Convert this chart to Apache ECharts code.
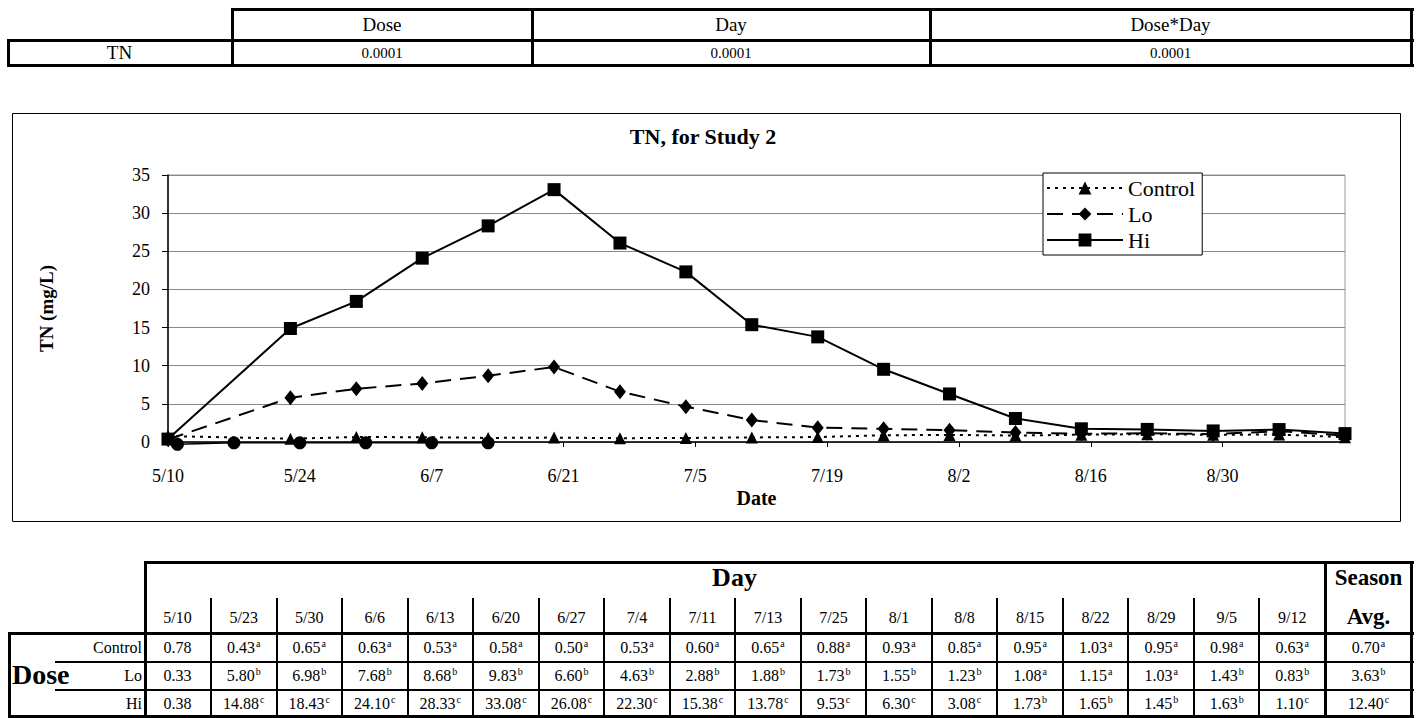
<!DOCTYPE html>
<html><head><meta charset="utf-8">
<script src="https://cdn.jsdelivr.net/npm/echarts@6/dist/echarts.min.js"></script>
<style>
html,body{margin:0;padding:0;background:#fff;}
body{width:1419px;height:718px;position:relative;overflow:hidden;font-family:'Liberation Serif','Times New Roman',serif;color:#000;}
#chart{position:absolute;left:0;top:0;width:1419px;height:718px;}
#tables{position:absolute;left:0;top:0;width:1419px;height:718px;}
.ln{position:absolute;background:#000;}
.tx{position:absolute;text-align:center;white-space:nowrap;color:#000;font-family:'Liberation Serif','Times New Roman',serif;}
.sp{font-size:10px;position:relative;top:-6px;margin-left:1px;}
</style></head><body>
<div id="chart"></div>
<div id="tables"></div>
<script>
// ---------- data ----------
const effectNames = ['Dose', 'Day', 'Dose*Day'];
const effectP = ['0.0001', '0.0001', '0.0001'];
const responseName = 'TN';

const chartDates = ['5/10','5/23','5/30','6/6','6/13','6/20','6/27','7/4','7/11','7/18','7/25','8/1','8/8','8/15','8/22','8/29','9/5','9/12'];
const tableDays  = ['5/10','5/23','5/30','6/6','6/13','6/20','6/27','7/4','7/11','7/13','7/25','8/1','8/8','8/15','8/22','8/29','9/5','9/12'];

const control = [0.78,0.43,0.65,0.63,0.53,0.58,0.50,0.53,0.60,0.65,0.88,0.93,0.85,0.95,1.03,0.95,0.98,0.63];
const lo      = [0.33,5.80,6.98,7.68,8.68,9.83,6.60,4.63,2.88,1.88,1.73,1.55,1.23,1.08,1.15,1.03,1.43,0.83];
const hi      = [0.38,14.88,18.43,24.10,28.33,33.08,26.08,22.30,15.38,13.78,9.53,6.30,3.08,1.73,1.65,1.45,1.63,1.10];
const controlSig = ['','a','a','a','a','a','a','a','a','a','a','a','a','a','a','a','a','a'];
const loSig      = ['','b','b','b','b','b','b','b','b','b','b','b','b','a','a','a','b','b'];
const hiSig      = ['','c','c','c','c','c','c','c','c','c','c','c','c','b','b','b','b','c'];
const seasonAvg  = [0.70, 3.63, 12.40];
const seasonSig  = ['a','b','c'];
const doseNames  = ['Control','Lo','Hi'];

// stray unlabelled marker series visible near zero in the figure
const strayDates  = ['5/11','5/17','5/24','5/31','6/7','6/13'];
const strayValues = [-0.3,-0.1,-0.1,-0.1,-0.1,-0.1];

const startDate = '5/10';
const endDate = '9/12';
const yMin = 0, yMax = 35, yStep = 5, xStepDays = 14;

// ---------- helpers ----------
const FONT = "'Liberation Serif', 'Times New Roman', serif";
function dayOffset(md){
  const [m,d] = md.split('/').map(Number);
  const [m0,d0] = startDate.split('/').map(Number);
  return Math.round((Date.UTC(2001,m-1,d) - Date.UTC(2001,m0-1,d0))/86400000);
}
function offsetLabel(v){
  const [m0,d0] = startDate.split('/').map(Number);
  const dt = new Date(Date.UTC(2001,m0-1,d0) + v*86400000);
  return (dt.getUTCMonth()+1) + '/' + dt.getUTCDate();
}
const pts = arr => chartDates.map((d,i)=>[dayOffset(d), arr[i]]);

// ---------- chart ----------
const chart = echarts.init(document.getElementById('chart'), null, {renderer:'svg'});
chart.setOption({
  animation:false,
  textStyle:{fontFamily:FONT},
  graphic:[
    {type:'rect', z:-1, shape:{x:12.5,y:113.5,width:1388,height:408}, style:{fill:'none', stroke:'#000', lineWidth:1}},
    {type:'text', x:703, y:136, style:{text:'TN, for Study 2', align:'center', verticalAlign:'middle', fontFamily:FONT, fontSize:22, fontWeight:'bold', fill:'#000'}}
  ],
  grid:{left:168, top:175, width:1177, height:267, show:true, borderColor:'#999', borderWidth:1},
  legend:{
    data:doseNames, orient:'vertical', left:1043, top:173,
    itemWidth:76, itemHeight:16, itemGap:4, padding:[4,7,4,3],
    backgroundColor:'#fff', borderColor:'#000', borderWidth:1,
    textStyle:{fontFamily:FONT, fontSize:22, color:'#000'}
  },
  xAxis:{
    type:'value', min:0, max:dayOffset(endDate), interval:xStepDays,
    axisLine:{show:true, lineStyle:{color:'#000', width:1.5}},
    axisTick:{show:true, length:5, lineStyle:{color:'#000'}},
    axisLabel:{formatter:offsetLabel, fontFamily:FONT, fontSize:18, color:'#000', margin:25, showMaxLabel:false},
    splitLine:{show:false},
    name:'Date', nameLocation:'middle', nameGap:46,
    nameTextStyle:{fontFamily:FONT, fontSize:20, fontWeight:'bold', color:'#000'}
  },
  yAxis:{
    type:'value', min:yMin, max:yMax, interval:yStep,
    axisLine:{show:true, lineStyle:{color:'#000', width:1.5}},
    axisTick:{show:true, length:6, lineStyle:{color:'#000'}},
    axisLabel:{fontFamily:FONT, fontSize:18, color:'#000', margin:18},
    splitLine:{show:true, lineStyle:{color:'#888', width:1}},
    name:'TN (mg/L)', nameLocation:'middle', nameGap:112, nameRotate:90,
    nameTextStyle:{fontFamily:FONT, fontSize:19, fontWeight:'bold', color:'#000'}
  },
  series:[
    {name:'Control', type:'line', data:pts(control), symbol:'triangle', symbolSize:12,
     lineStyle:{color:'#000', width:2, type:[3,5]}, itemStyle:{color:'#000'}, z:3},
    {name:'Lo', type:'line', data:pts(lo), symbol:'diamond', symbolSize:[12,15],
     lineStyle:{color:'#000', width:2, type:[16,9]}, itemStyle:{color:'#000'}, z:4},
    {name:'Hi', type:'line', data:pts(hi), symbol:'rect', symbolSize:13,
     lineStyle:{color:'#000', width:2}, itemStyle:{color:'#000'}, z:5},
    {name:'stray', type:'line', data:strayDates.map((d,i)=>[dayOffset(d), strayValues[i]]),
     symbol:'circle', symbolSize:13, clip:false,
     lineStyle:{color:'#000', width:1.5}, itemStyle:{color:'#000'}, z:6}
  ]
});

// ---------- tables ----------
const T = document.getElementById('tables');
function line(x,y,w,h){const d=document.createElement('div');d.className='ln';d.style.cssText=`left:${x}px;top:${y}px;width:${w}px;height:${h}px;`;T.appendChild(d);}
function text(html,x,y,w,h,size,bold,align){const d=document.createElement('div');d.className='tx';
  d.style.cssText=`left:${x}px;top:${y}px;width:${w}px;height:${h}px;line-height:${h}px;font-size:${size}px;font-weight:${bold?'bold':'normal'};text-align:${align||'center'};`;
  d.innerHTML=html;T.appendChild(d);}

// top table
const topCols = [7,232,532,930,1411];
line(232,8,1182,3); line(7,39,1407,3); line(7,64,1407,3);
for(let i=0;i<topCols.length;i++){ const x=topCols[i]; if(i===0) line(x,39,3,28); else line(x-1,8,3,59); }
effectNames.forEach((n,i)=>text(n, topCols[i+1], 11, topCols[i+2]-topCols[i+1], 28, 19, false));
text(responseName, 7, 42, 225, 22, 19, false);
effectP.forEach((p,i)=>text(p, topCols[i+1], 42, topCols[i+2]-topCols[i+1], 22, 15, false));

// bottom table
const edges=[144,211]; for(let k=1;k<=17;k++) edges.push(211 + k*(1325-211)/17); edges.push(1412);
const yTop=561, yHead=598, yData=632, rowH=28;
line(144,yTop,1270,3);
line(144,yTop,3,718-yTop); line(1324,yTop,3,718-yTop); line(1410,yTop,3,718-yTop);
for(let k=1;k<=17;k++){ line(Math.round(edges[k])-1,yHead,2,yData-yHead); line(Math.round(edges[k])-1,yData,2,718-yData); }
line(8,yData,1406,3);
line(55,yData+rowH+1,1359,2); line(55,yData+2*rowH+1,1359,2);
line(8,yData,3,718-yData);
line(8,715,1406,3);
text('Day', 144, 564, 1181, 28, 26, true);
text('Season', 1325, 564, 87, 28, 23, true, 'center');
text('Avg.', 1325, 603, 87, 28, 23, true);
tableDays.forEach((d,k)=>text(d, edges[k], 604, edges[k+1]-edges[k], 28, 16, false));
text('Dose', 12, yData+rowH, 70, rowH+2, 28, true, 'left');
const rows=[[control,controlSig],[lo,loSig],[hi,hiSig]];
rows.forEach(([vals,sig],r)=>{
  const y=yData+3+r*rowH;
  text(doseNames[r], 55, y, 87, rowH-2, 16, false, 'right');
  vals.forEach((v,k)=>text(v.toFixed(2)+(sig[k]?`<span class="sp">${sig[k]}</span>`:''), edges[k], y, edges[k+1]-edges[k], rowH-2, 16, false));
  text(seasonAvg[r].toFixed(2)+`<span class="sp">${seasonSig[r]}</span>`, 1325, y, 87, rowH-2, 16, false);
});
</script>
</body></html>
